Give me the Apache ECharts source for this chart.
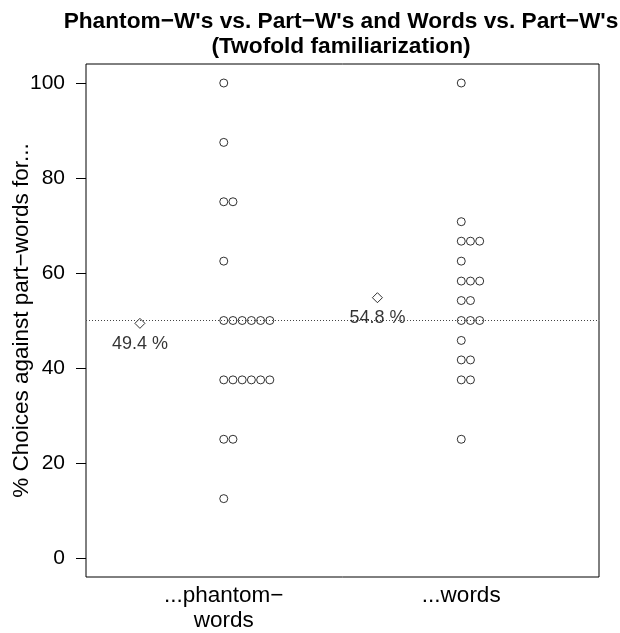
<!DOCTYPE html>
<html><head><meta charset="utf-8">
<script src="https://cdn.jsdelivr.net/npm/echarts@6/dist/echarts.min.js"></script>
<style>html,body{margin:0;padding:0;background:#fff}#c{width:620px;height:633px}</style>
</head><body><div id="c"></div>
<script>
var categories = ["...phantom−\nwords", "...words"];
var phantomValues = [100, 87.5, 75, 75, 62.5, 50, 50, 50, 50, 50, 50, 37.5, 37.5, 37.5, 37.5, 37.5, 37.5, 25, 25, 12.5];
var wordValues = [100, 70.8, 66.7, 66.7, 66.7, 62.5, 58.3, 58.3, 58.3, 54.2, 54.2, 50, 50, 50, 45.8, 41.7, 41.7, 37.5, 37.5, 25];
var meanValues = [49.4, 54.8];
var yTicks = [0, 20, 40, 60, 80, 100];
var chanceLevel = 50;

var FONT = "Liberation Sans, Arial, Helvetica, sans-serif";
var STACK = 0.0388;
var MEAN_OFF = -0.353;

function stackPoints(vals, g) {
  var counts = {};
  return vals.map(function (v) {
    var k = counts[v] || 0; counts[v] = k + 1;
    return [g + k * STACK, v];
  });
}
var pts = stackPoints(phantomValues, 1).concat(stackPoints(wordValues, 2));
var meanPts = meanValues.map(function (m, i) { return [i + 1 + MEAN_OFF, m]; });

var chart = echarts.init(document.getElementById('c'), null, {renderer: 'canvas'});
chart.setOption({
  animation: false,
  title: {
    text: "Phantom−W's vs. Part−W's and Words vs. Part−W's\n(Twofold familiarization)",
    left: 336, top: 4, textAlign: 'center',
    textStyle: {fontFamily: FONT, fontWeight: 'bold', fontSize: 22.7, lineHeight: 25, color: '#000'}
  },
  grid: {left: 86, right: 21, top: 64, bottom: 56, outerBoundsMode: 'none', containLabel: false,
         show: true, borderColor: '#000', borderWidth: 1, backgroundColor: 'transparent'},
  xAxis: {
    type: 'value', min: 0.42, max: 2.58,
    splitLine: {show: false}, axisLine: {show: false}, axisTick: {show: false},
    axisLabel: {
      customValues: [1, 2],
      formatter: function (v) { return categories[Math.round(v) - 1]; },
      fontFamily: FONT, fontSize: 22.5, color: '#000', lineHeight: 25, margin: 6
    }
  },
  yAxis: {
    type: 'value', min: -4, max: 104,
    name: "% Choices against part−words for...", nameLocation: 'middle', nameGap: 53,
    nameMoveOverlap: false,
    nameTextStyle: {fontFamily: FONT, fontSize: 22.5, color: '#000'},
    splitLine: {show: false}, axisLine: {show: false},
    axisTick: {show: true, customValues: yTicks, length: 10, lineStyle: {color: '#000'}},
    axisLabel: {customValues: yTicks, fontFamily: FONT, fontSize: 21, color: '#000', margin: 21}
  },
  series: [
    {
      type: 'scatter', data: pts, symbol: 'circle', symbolSize: 8,
      itemStyle: {color: '#fff', borderColor: '#000', borderWidth: 1},
      markLine: {
        silent: true, symbol: ['none', 'none'], label: {show: false},
        lineStyle: {type: [1, 2], color: '#444', width: 1},
        data: [{yAxis: chanceLevel}]
      },
      z: 3
    },
    {
      type: 'scatter', data: meanPts, symbol: 'diamond', symbolSize: [10, 10],
      itemStyle: {color: '#fff', borderColor: '#000', borderWidth: 1},
      label: {
        show: true, position: 'bottom', distance: 6,
        formatter: function (p) { return p.value[1].toFixed(1) + ' %'; },
        fontFamily: FONT, fontSize: 18, color: '#000'
      },
      z: 4
    }
  ]
});
</script></body></html>
